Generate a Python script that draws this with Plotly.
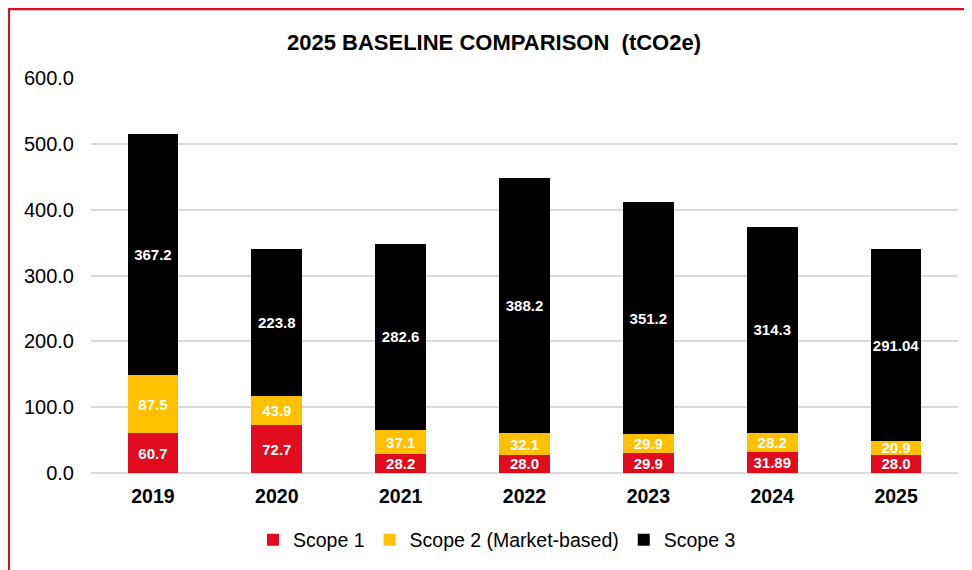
import plotly.graph_objects as go

years = ["2019", "2020", "2021", "2022", "2023", "2024", "2025"]
scope1 = [60.7, 72.7, 28.2, 28.0, 29.9, 31.89, 28.0]
scope2 = [87.5, 43.9, 37.1, 32.1, 29.9, 28.2, 20.9]
scope3 = [367.2, 223.8, 282.6, 388.2, 351.2, 314.3, 291.04]
scope1_labels = ["60.7", "72.7", "28.2", "28.0", "29.9", "31.89", "28.0"]
scope2_labels = ["87.5", "43.9", "37.1", "32.1", "29.9", "28.2", "20.9"]
scope3_labels = ["367.2", "223.8", "282.6", "388.2", "351.2", "314.3", "291.04"]
y_ticks = [0, 100, 200, 300, 400, 500, 600]

FONT = "Liberation Sans, Arial, sans-serif"

# page body has an 8px margin: work in screenshot pixels and shift by OFF
OFF = 8
W, H = 972 - OFF, 570 - OFF
L, R, T, B = 91 - OFF, 14, 78 - OFF, 96
pw, ph = W - L - R, H - T - B


def px(xp):
    return (xp - OFF - L) / pw


def py(yp):
    return (H - B - (yp - OFF)) / ph


fig = go.Figure()
for name, vals, labels, color in [
    ("Scope 1", scope1, scope1_labels, "#E00B1C"),
    ("Scope 2 (Market-based)", scope2, scope2_labels, "#FFC000"),
    ("Scope 3", scope3, scope3_labels, "#000000"),
]:
    fig.add_trace(go.Bar(
        x=years, y=vals, name=name, text=labels,
        textposition="inside", insidetextanchor="middle", textangle=0,
        textfont=dict(family=FONT, size=15, color="white", weight="bold"),
        marker=dict(color=color, line=dict(width=0)),
        hoverinfo="x+y+name",
    ))

fig.update_layout(
    width=W, height=H,
    barmode="stack", bargap=0.59,
    margin=dict(l=L, r=R, t=T, b=B),
    paper_bgcolor="white", plot_bgcolor="white",
    font=dict(family=FONT, color="#000000"),
    uniformtext=dict(minsize=15, mode="show"),
    showlegend=True,
    legend=dict(orientation="h", x=px(497), xanchor="center", y=py(540), yanchor="middle",
                font=dict(size=19.5, color="#000000"), traceorder="normal",
                itemwidth=30),
    xaxis=dict(showgrid=False, showline=False, ticks="",
               tickfont=dict(size=19.5, family=FONT, color="#000000", weight="bold"),
               ticklabelstandoff=9),
    yaxis=dict(range=[0, 600], tickvals=y_ticks, tickformat=".1f",
               showgrid=True, gridcolor="#D9D9D9", gridwidth=1.5,
               zeroline=True, zerolinecolor="#D9D9D9", zerolinewidth=2,
               showline=False, ticks="",
               tickfont=dict(size=20, family=FONT, color="#000000"),
               ticklabelstandoff=16),
    annotations=[dict(
        text="<b>2025 BASELINE COMPARISON  (tCO2e)</b>", xref="paper", yref="paper",
        x=px(494), y=py(42), xanchor="center", yanchor="middle", showarrow=False,
        font=dict(size=22, family=FONT, color="#000000"),
    )],
    shapes=[
        dict(type="line", xref="paper", yref="paper", x0=px(8.5), x1=px(8.5),
             y0=py(575), y1=py(7), line=dict(color="#E00B1C", width=3)),
        dict(type="line", xref="paper", yref="paper", x0=px(7), x1=px(980),
             y0=py(8.5), y1=py(8.5), line=dict(color="#E00B1C", width=3)),
    ],
)

fig.write_html("out.html")
